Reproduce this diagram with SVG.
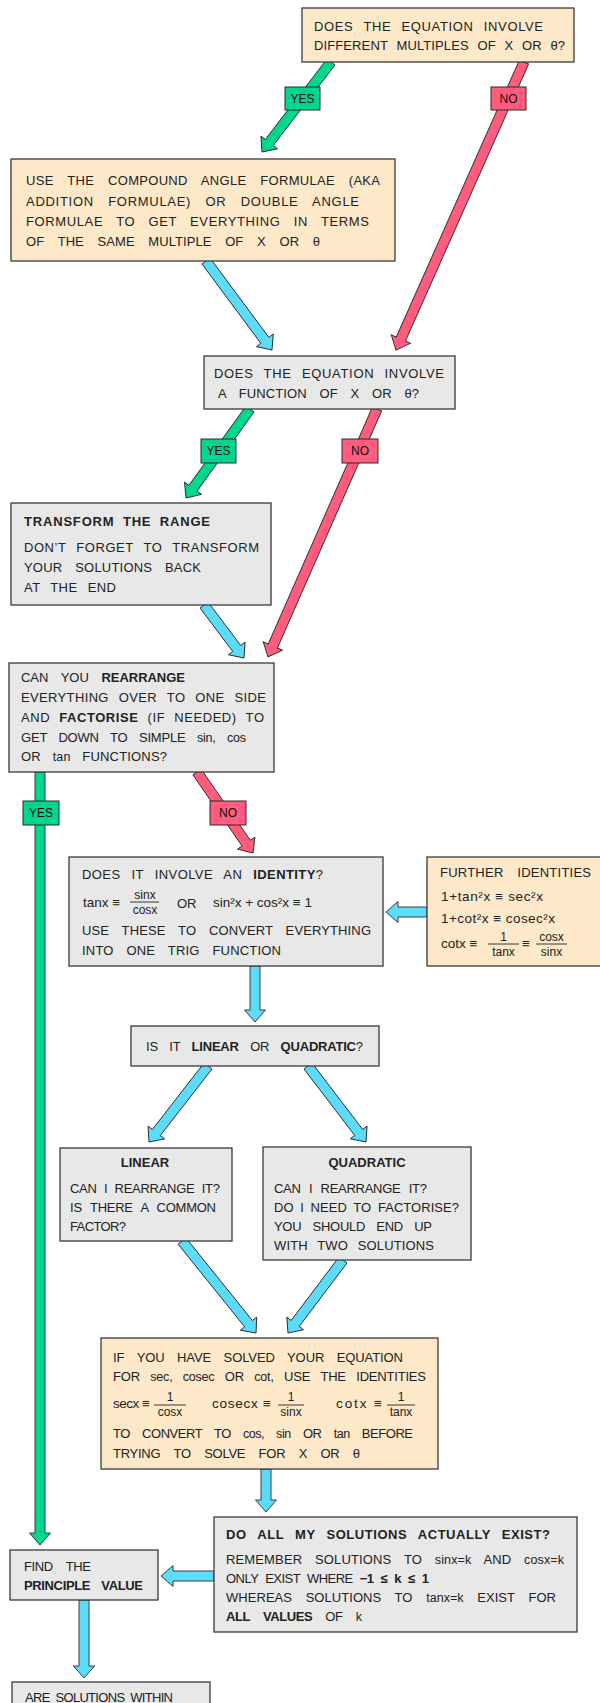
<svg xmlns="http://www.w3.org/2000/svg" width="600" height="1703" viewBox="0 0 600 1703">
<style>
.bo{fill:#FDE8C9;stroke:#3a3a3a;stroke-width:1.3}
.bg{fill:#E8E8E8;stroke:#3a3a3a;stroke-width:1.3}
.t{font-family:"Liberation Sans",Arial,sans-serif;font-size:13px;fill:#222;word-spacing:6px}
.b{font-weight:bold}
.mi{font-size:12.5px}
.m{font-family:"Liberation Sans",Arial,sans-serif;font-size:13.5px;fill:#222;word-spacing:0}
.fr{font-family:"Liberation Sans",Arial,sans-serif;font-size:12px;fill:#222;text-anchor:middle}
.bar{stroke:#222;stroke-width:0.9}
.ag{fill:#00D68F;stroke:#2b2b2b;stroke-width:0.9}
.ap{fill:#FF5C7E;stroke:#2b2b2b;stroke-width:0.9}
.ab{fill:#5DDCF9;stroke:#2b2b2b;stroke-width:0.9}
.lg{fill:#00D68F;stroke:#2b2b2b;stroke-width:1}
.lp{fill:#FF5C7E;stroke:#2b2b2b;stroke-width:1}
.lt{font-family:"Liberation Sans",Arial,sans-serif;font-size:12px;fill:#111;text-anchor:middle}
</style>

<g id="connectors">
  <g transform="translate(331,62) rotate(127.48)"><polygon class="ag" points="0,-5 101.4,-5 101.4,-10.5 113.4,0 101.4,10.5 101.4,5 0,5"/></g>
  <g transform="translate(524,62) rotate(113.96)"><polygon class="ap" points="0,-5 303.2,-5 303.2,-10.5 315.2,0 303.2,10.5 303.2,5 0,5"/></g>
  <g transform="translate(206,261) rotate(53.44)"><polygon class="ab" points="0,-5 98.8,-5 98.8,-10.5 110.8,0 98.8,10.5 98.8,5 0,5"/></g>
  <g transform="translate(250,409) rotate(125.72)"><polygon class="ag" points="0,-5 97.6,-5 97.6,-10.5 109.6,0 97.6,10.5 97.6,5 0,5"/></g>
  <g transform="translate(377,409) rotate(113.73)"><polygon class="ap" points="0,-5 258.9,-5 258.9,-10.5 270.9,0 258.9,10.5 258.9,5 0,5"/></g>
  <g transform="translate(204,605) rotate(52.96)"><polygon class="ab" points="0,-5 54.4,-5 54.4,-10.5 66.4,0 54.4,10.5 54.4,5 0,5"/></g>
  <g transform="translate(40,772) rotate(90)"><polygon class="ag" points="0,-5 761,-5 761,-10.5 773,0 761,10.5 761,5 0,5"/></g>
  <g transform="translate(197,772) rotate(55.34)"><polygon class="ap" points="0,-5 86.5,-5 86.5,-10.5 98.5,0 86.5,10.5 86.5,5 0,5"/></g>
  <g transform="translate(427,912) rotate(180)"><polygon class="ab" points="0,-5 29,-5 29,-10.5 41,0 29,10.5 29,5 0,5"/></g>
  <g transform="translate(255,966) rotate(90)"><polygon class="ab" points="0,-5 44,-5 44,-10.5 56,0 44,10.5 44,5 0,5"/></g>
  <g transform="translate(208,1066) rotate(127.83)"><polygon class="ab" points="0,-5 84.2,-5 84.2,-10.5 96.2,0 84.2,10.5 84.2,5 0,5"/></g>
  <g transform="translate(308,1066) rotate(52.65)"><polygon class="ab" points="0,-5 83.6,-5 83.6,-10.5 95.6,0 83.6,10.5 83.6,5 0,5"/></g>
  <g transform="translate(182,1241) rotate(51.19)"><polygon class="ab" points="0,-5 106.1,-5 106.1,-10.5 118.1,0 106.1,10.5 106.1,5 0,5"/></g>
  <g transform="translate(343,1260) rotate(127)"><polygon class="ab" points="0,-5 79.4,-5 79.4,-10.5 91.4,0 79.4,10.5 79.4,5 0,5"/></g>
  <g transform="translate(266,1469) rotate(90)"><polygon class="ab" points="0,-5 31,-5 31,-10.5 43,0 31,10.5 31,5 0,5"/></g>
  <g transform="translate(214,1576) rotate(180)"><polygon class="ab" points="0,-5 41,-5 41,-10.5 53,0 41,10.5 41,5 0,5"/></g>
  <g transform="translate(84,1600) rotate(90)"><polygon class="ab" points="0,-5 66,-5 66,-10.5 78,0 66,10.5 66,5 0,5"/></g>

  <rect class="lg" x="285" y="87" width="35" height="23"/><text class="lt" x="302.5" y="102.5">YES</text>
  <rect class="lp" x="491" y="87" width="35" height="23"/><text class="lt" x="508.5" y="102.5">NO</text>
  <rect class="lg" x="201" y="439" width="35" height="24"/><text class="lt" x="218.5" y="455">YES</text>
  <rect class="lp" x="342" y="439" width="36" height="24"/><text class="lt" x="360" y="455">NO</text>
  <rect class="lg" x="23" y="801" width="36" height="24"/><text class="lt" x="41" y="817">YES</text>
  <rect class="lp" x="210" y="801" width="36" height="24"/><text class="lt" x="228" y="817">NO</text>
</g>

<g id="n1">
  <rect class="bo" x="302" y="8" width="272" height="54"/>
  <text class="t" x="314" y="31" textLength="229" lengthAdjust="spacing">DOES THE EQUATION INVOLVE</text>
  <text class="t" x="314" y="50" textLength="251" lengthAdjust="spacing" style="word-spacing:5px">DIFFERENT MULTIPLES OF X OR θ?</text>
</g>
<g id="n2">
  <rect class="bo" x="11" y="159" width="384" height="102"/>
  <text class="t" x="26" y="185" textLength="354" lengthAdjust="spacing" style="word-spacing:10px">USE THE COMPOUND ANGLE FORMULAE (AKA</text>
  <text class="t" x="26" y="205.5" textLength="333" lengthAdjust="spacing" style="word-spacing:10px">ADDITION FORMULAE) OR DOUBLE ANGLE</text>
  <text class="t" x="26" y="226" textLength="343" lengthAdjust="spacing" style="word-spacing:9px">FORMULAE TO GET EVERYTHING IN TERMS</text>
  <text class="t" x="26" y="246" textLength="294" lengthAdjust="spacing" style="word-spacing:10px">OF THE SAME MULTIPLE OF X OR θ</text>
</g>
<g id="n3">
  <rect class="bg" x="204" y="356" width="251" height="53"/>
  <text class="t" x="214" y="378" textLength="230" lengthAdjust="spacing">DOES THE EQUATION INVOLVE</text>
  <text class="t" x="218" y="398" textLength="201" lengthAdjust="spacing" style="word-spacing:9px">A FUNCTION OF X OR θ?</text>
</g>
<g id="n4">
  <rect class="bg" x="11" y="503" width="260" height="102"/>
  <text class="t b" x="24" y="526" textLength="186" lengthAdjust="spacing" style="word-spacing:4px">TRANSFORM THE RANGE</text>
  <text class="t" x="24" y="552" textLength="235" lengthAdjust="spacing">DON’T FORGET TO TRANSFORM</text>
  <text class="t" x="24" y="572" textLength="177" lengthAdjust="spacing" style="word-spacing:9px">YOUR SOLUTIONS BACK</text>
  <text class="t" x="24" y="592" textLength="92" lengthAdjust="spacing">AT THE END</text>
</g>
<g id="n5">
  <rect class="bg" x="9" y="663" width="265" height="109"/>
  <text class="t" x="21" y="682" textLength="164" lengthAdjust="spacing" style="word-spacing:9px">CAN YOU <tspan class="b">REARRANGE</tspan></text>
  <text class="t" x="21" y="702" textLength="245" lengthAdjust="spacing">EVERYTHING OVER TO ONE SIDE</text>
  <text class="t" x="21" y="722" textLength="243" lengthAdjust="spacing" style="word-spacing:5px">AND <tspan class="b">FACTORISE</tspan> (IF NEEDED) TO</text>
  <text class="t" x="21" y="742" textLength="225" lengthAdjust="spacing" style="word-spacing:8px">GET DOWN TO SIMPLE <tspan class="mi">sin, cos</tspan></text>
  <text class="t" x="21" y="761" textLength="146" lengthAdjust="spacing" style="word-spacing:8px">OR <tspan class="mi">tan</tspan> FUNCTIONS?</text>
</g>
<g id="n6">
  <rect class="bg" x="69" y="857" width="314" height="109"/>
  <text class="t" x="82" y="879" textLength="241" lengthAdjust="spacing" style="word-spacing:7px">DOES IT INVOLVE AN <tspan class="b">IDENTITY</tspan>?</text>
  <text class="m" x="83" y="907">tanx ≡</text>
  <line class="bar" x1="130" y1="902" x2="159" y2="902"/>
  <text class="fr" x="145" y="899">sinx</text>
  <text class="fr" x="145" y="914">cosx</text>
  <text class="t" x="177" y="908">OR</text>
  <text class="m" x="213" y="907" textLength="99" lengthAdjust="spacing">sin²x + cos²x ≡ 1</text>
  <text class="t" x="82" y="935" textLength="289" lengthAdjust="spacing" style="word-spacing:9px">USE THESE TO CONVERT EVERYTHING</text>
  <text class="t" x="82" y="955" textLength="199" lengthAdjust="spacing" style="word-spacing:9px">INTO ONE TRIG FUNCTION</text>
</g>
<g id="n7">
  <rect class="bo" x="427" y="857" width="180" height="109"/>
  <text class="t" x="440" y="877" textLength="151" lengthAdjust="spacing" style="word-spacing:10px">FURTHER IDENTITIES</text>
  <text class="m" x="441" y="901" textLength="102" lengthAdjust="spacing">1+tan²x ≡ sec²x</text>
  <text class="m" x="441" y="923" textLength="114" lengthAdjust="spacing">1+cot²x ≡ cosec²x</text>
  <text class="m" x="441" y="948">cotx ≡</text>
  <line class="bar" x1="488" y1="944" x2="519" y2="944"/>
  <text class="fr" x="503.5" y="941">1</text>
  <text class="fr" x="503.5" y="956">tanx</text>
  <text class="m" x="522" y="948">≡</text>
  <line class="bar" x1="536" y1="944" x2="567" y2="944"/>
  <text class="fr" x="551.5" y="941">cosx</text>
  <text class="fr" x="551.5" y="956">sinx</text>
</g>
<g id="n8">
  <rect class="bg" x="131" y="1026" width="248" height="40"/>
  <text class="t" x="146" y="1051" textLength="217" lengthAdjust="spacing" style="word-spacing:8px">IS IT <tspan class="b">LINEAR</tspan> OR <tspan class="b">QUADRATIC</tspan>?</text>
</g>
<g id="n9">
  <rect class="bg" x="60" y="1148" width="172" height="93"/>
  <text class="t b" x="145" y="1167" text-anchor="middle">LINEAR</text>
  <text class="t" x="70" y="1193" textLength="150" lengthAdjust="spacing" style="word-spacing:4px">CAN I REARRANGE IT?</text>
  <text class="t" x="70" y="1212" textLength="146" lengthAdjust="spacing" style="word-spacing:5px">IS THERE A COMMON</text>
  <text class="t" x="70" y="1231" textLength="56" lengthAdjust="spacing">FACTOR?</text>
</g>
<g id="n10">
  <rect class="bg" x="263" y="1147" width="208" height="113"/>
  <text class="t b" x="367" y="1167" text-anchor="middle">QUADRATIC</text>
  <text class="t" x="274" y="1193" textLength="153" lengthAdjust="spacing" style="word-spacing:5px">CAN I REARRANGE IT?</text>
  <text class="t" x="274" y="1212" textLength="185" lengthAdjust="spacing" style="word-spacing:3px">DO I NEED TO FACTORISE?</text>
  <text class="t" x="274" y="1231" textLength="158" lengthAdjust="spacing" style="word-spacing:8px">YOU SHOULD END UP</text>
  <text class="t" x="274" y="1250" textLength="160" lengthAdjust="spacing" style="word-spacing:6px">WITH TWO SOLUTIONS</text>
</g>
<g id="n11">
  <rect class="bo" x="101" y="1338" width="337" height="131"/>
  <text class="t" x="113" y="1362" textLength="290" lengthAdjust="spacing" style="word-spacing:9px">IF YOU HAVE SOLVED YOUR EQUATION</text>
  <text class="t" x="113" y="1381" textLength="313" lengthAdjust="spacing" style="word-spacing:7px">FOR <tspan class="mi">sec, cosec</tspan> OR <tspan class="mi">cot,</tspan> USE THE IDENTITIES</text>
  <text class="m" x="113" y="1408" textLength="37" lengthAdjust="spacing">secx ≡</text>
  <line class="bar" x1="154" y1="1405" x2="186" y2="1405"/>
  <text class="fr" x="170" y="1401">1</text>
  <text class="fr" x="170" y="1416">cosx</text>
  <text class="m" x="212" y="1408" textLength="59" lengthAdjust="spacing">cosecx ≡</text>
  <line class="bar" x1="278" y1="1405" x2="304" y2="1405"/>
  <text class="fr" x="291" y="1401">1</text>
  <text class="fr" x="291" y="1416">sinx</text>
  <text class="m" x="336" y="1408" textLength="46" lengthAdjust="spacing">cotx ≡</text>
  <line class="bar" x1="387" y1="1405" x2="415" y2="1405"/>
  <text class="fr" x="401" y="1401">1</text>
  <text class="fr" x="401" y="1416">tanx</text>
  <text class="t" x="113" y="1438" textLength="300" lengthAdjust="spacing" style="word-spacing:9px">TO CONVERT TO <tspan class="mi">cos, sin</tspan> OR <tspan class="mi">tan</tspan> BEFORE</text>
  <text class="t" x="113" y="1458" textLength="247" lengthAdjust="spacing" style="word-spacing:10px">TRYING TO SOLVE FOR X OR θ</text>
</g>
<g id="n12">
  <rect class="bg" x="214" y="1517" width="363" height="115"/>
  <text class="t b" x="226" y="1539" textLength="324" lengthAdjust="spacing" style="word-spacing:7px">DO ALL MY SOLUTIONS ACTUALLY EXIST?</text>
  <text class="t" x="226" y="1564" textLength="338" lengthAdjust="spacing" style="word-spacing:9px">REMEMBER SOLUTIONS TO <tspan class="mi">sinx=k</tspan> AND <tspan class="mi">cosx=k</tspan></text>
  <text class="t" x="226" y="1583" textLength="203" lengthAdjust="spacing" style="word-spacing:4px">ONLY EXIST WHERE <tspan class="b">−1 ≤ k ≤ 1</tspan></text>
  <text class="t" x="226" y="1602" textLength="330" lengthAdjust="spacing" style="word-spacing:10px">WHEREAS SOLUTIONS TO <tspan class="mi">tanx=k</tspan> EXIST FOR</text>
  <text class="t" x="226" y="1621" textLength="136" lengthAdjust="spacing" style="word-spacing:10px"><tspan class="b">ALL VALUES</tspan> OF <tspan class="mi">k</tspan></text>
</g>
<g id="n13">
  <rect class="bg" x="10" y="1550" width="148" height="50"/>
  <text class="t" x="24" y="1571" textLength="67" lengthAdjust="spacing" style="word-spacing:10px">FIND THE</text>
  <text class="t b" x="24" y="1590" textLength="119" lengthAdjust="spacing" style="word-spacing:8px">PRINCIPLE VALUE</text>
</g>
<g id="n14">
  <rect class="bg" x="12" y="1682" width="198" height="40"/>
  <text class="t" x="25" y="1702" textLength="148" lengthAdjust="spacing" style="word-spacing:3px">ARE SOLUTIONS WITHIN</text>
</g>
</svg>
